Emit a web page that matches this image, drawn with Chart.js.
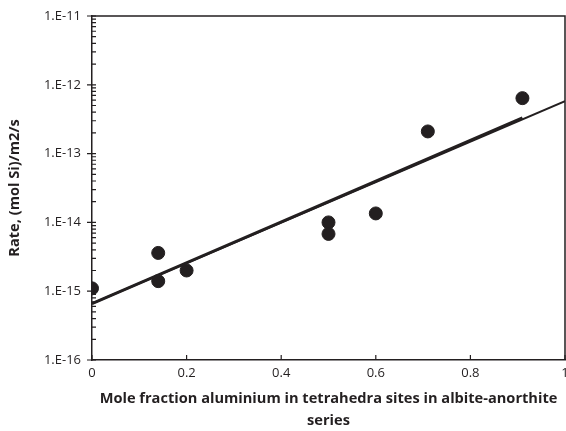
<!DOCTYPE html>
<html>
<head>
<meta charset="utf-8">
<script src="https://cdn.jsdelivr.net/npm/chart.js@4/dist/chart.umd.min.js"></script>
<style>
html, body { margin: 0; padding: 0; background: #fff; }
#wrap { width: 566px; height: 431px; }
</style>
</head>
<body>
<div id="wrap"><canvas id="mycanvas"></canvas></div>
<script>
// measured points
var fraction = [0, 0.14, 0.14, 0.2, 0.5, 0.5, 0.6, 0.71, 0.91];
var rate = [1.1e-15, 3.6e-15, 1.4e-15, 2.0e-15, 1.0e-14, 6.8e-15, 1.35e-14, 2.1e-13, 6.4e-13];

// trend line over the data, and the same line carried on to x = 1
var fitX = [0, 0.91];
var fitY = [6.6e-16, 3.3e-13];
var extX = [0, 1];
var extY = [6.6e-16, 5.8e-13];

var yDecades = [1e-16, 1e-15, 1e-14, 1e-13, 1e-12, 1e-11];
var xTicks = [0, 0.2, 0.4, 0.6, 0.8, 1];

var ink = '#231f20';
var labelFont = { family: 'Open Sans', size: 13 };
var titleFont = { family: 'Open Sans', size: 14.6, weight: 'bold', lineHeight: 1.45 };

function pairs(xs, ys) {
	var out = [];
	for (var i in xs) {
		out.push({ x: xs[i], y: ys[i] });
	}
	return out;
}

// frame on top/right and the small tick marks
var axisMarks = {
	id: 'axisMarks',
	afterDraw: function(chart) {
		var c = chart.ctx;
		var a = chart.chartArea;
		var sx = chart.scales.x;
		var sy = chart.scales.y;
		c.save();
		c.strokeStyle = ink;
		c.lineWidth = 1.5;
		c.beginPath();
		c.moveTo(a.left, a.top);
		c.lineTo(a.right, a.top);
		c.lineTo(a.right, a.bottom);
		c.stroke();

		c.lineWidth = 1.2;
		c.beginPath();
		for (var d = 0; d < yDecades.length; d++) {
			var py = sy.getPixelForValue(yDecades[d]);
			c.moveTo(a.left - 5, py);
			c.lineTo(a.left + 4, py);
			if (d < yDecades.length - 1) {
				for (var m = 2; m <= 9; m++) {
					var my = sy.getPixelForValue(yDecades[d] * m);
					c.moveTo(a.left, my);
					c.lineTo(a.left + 4, my);
				}
			}
		}
		for (var k in xTicks) {
			var px = sx.getPixelForValue(xTicks[k]);
			c.moveTo(px, a.bottom);
			c.lineTo(px, a.bottom - 5);
		}
		c.stroke();
		c.restore();
	}
};

var chartdata = {
	datasets: [
		{
			label: 'Data',
			data: pairs(fraction, rate),
			backgroundColor: ink,
			borderColor: ink,
			pointRadius: 6.5,
			pointHoverRadius: 6.5,
			order: 0
		},
		{
			label: 'Fit',
			type: 'line',
			data: pairs(fitX, fitY),
			borderColor: ink,
			borderWidth: 3,
			pointRadius: 0,
			fill: false,
			order: 1
		},
		{
			label: 'Extended',
			type: 'line',
			data: pairs(extX, extY),
			borderColor: ink,
			borderWidth: 2,
			pointRadius: 0,
			fill: false,
			order: 2
		}
	]
};

var ctx = document.getElementById('mycanvas');

var scatterGraph = new Chart(ctx, {
	type: 'scatter',
	data: chartdata,
	options: {
		responsive: true,
		maintainAspectRatio: false,
		animation: false,
		layout: { autoPadding: false, padding: { top: 16, right: 1, left: 0, bottom: 0 } },
		plugins: {
			legend: { display: false },
			tooltip: { enabled: false }
		},
		scales: {
			x: {
				type: 'linear',
				min: 0,
				max: 1,
				grid: { display: false, drawTicks: false, tickLength: 0 },
				border: { display: true, color: ink, width: 1.5 },
				afterBuildTicks: function(s) {
					s.ticks = xTicks.map(function(v) { return { value: v }; });
				},
				afterFit: function(s) {
					s.paddingLeft = 0;
					s.paddingRight = 0;
					s.height = 71;
				},
				ticks: {
					color: ink,
					font: labelFont,
					padding: 5,
					maxRotation: 0,
					callback: function(v) { return String(v); }
				},
				title: {
					display: true,
					text: ['Mole fraction aluminium in tetrahedra sites in albite-anorthite', 'series'],
					color: ink,
					font: titleFont,
					padding: { top: 4, bottom: 0 }
				}
			},
			y: {
				type: 'logarithmic',
				min: 1e-16,
				max: 1e-11,
				grid: { display: false, drawTicks: false, tickLength: 0 },
				border: { display: true, color: ink, width: 1.5 },
				afterBuildTicks: function(s) {
					s.ticks = yDecades.map(function(v) { return { value: v }; });
				},
				afterFit: function(s) {
					s.width = 92;
					s.paddingTop = 0;
					s.paddingBottom = 0;
				},
				ticks: {
					color: ink,
					font: labelFont,
					padding: 11,
					callback: function(v) {
						return '1.E' + Math.round(Math.log10(v));
					}
				},
				title: {
					display: true,
					text: 'Rate, (mol Si)/m2/s',
					color: ink,
					font: titleFont,
					padding: { top: 4, bottom: 0 }
				}
			}
		}
	},
	plugins: [axisMarks]
});
</script>
</body>
</html>
